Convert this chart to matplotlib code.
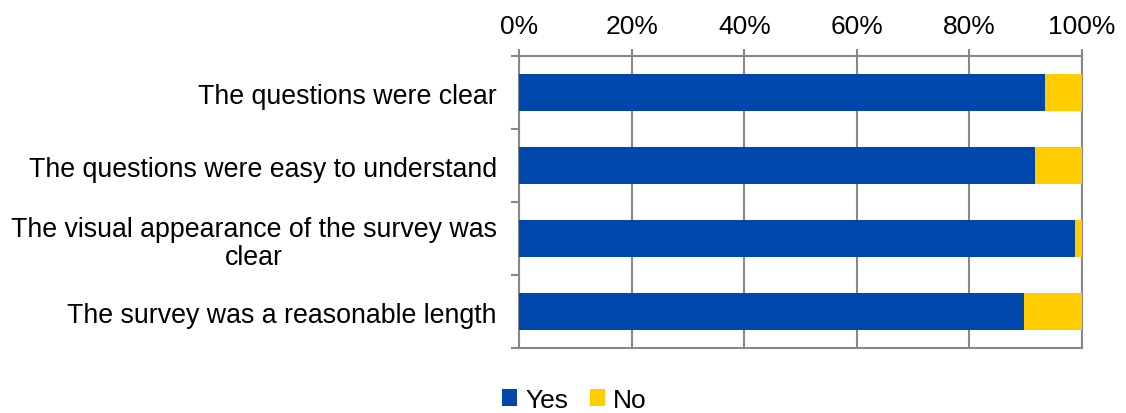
import numpy as np
import matplotlib.pyplot as plt

plt.rcParams['font.family'] = ['Liberation Sans', 'DejaVu Sans']

# data
categories = ["The questions were clear",
              "The questions were easy to understand",
              "The visual appearance of the survey was\nclear",
              "The survey was a reasonable length"]
yes = [93.5, 91.6, 98.8, 89.7]
no = [100 - v for v in yes]

fig = plt.figure(figsize=(11.26, 4.14), dpi=100)
ax = fig.add_axes([0.461, 0.157, 0.5, 0.705])

y = np.arange(len(categories))
ax.barh(y, yes, height=0.5, color='#0047AB', label='Yes', zorder=3)
ax.barh(y, no, left=yes, height=0.5, color='#FFCC00', label='No', zorder=3)

ax.set_xlim(0, 100)
ax.set_ylim(len(categories) - 0.5, -0.5)
ax.xaxis.tick_top()
ax.set_xticks(np.arange(0, 101, 20))
ax.set_xticklabels([f"{v}%" for v in range(0, 101, 20)], fontsize=19)
ax.tick_params(axis='x', colors='#888888', labelcolor='black', length=5, width=1.5, pad=8)
ax.grid(axis='x', color='#888888', linewidth=1.5, zorder=0)
ax.set_axisbelow(True)

ax.set_yticks(y)
ax.set_yticklabels(categories, fontsize=19.3, multialignment='center', linespacing=1.1)
ax.set_yticks(np.arange(-0.5, len(categories), 1), minor=True)
ax.tick_params(axis='y', which='major', length=0, pad=16)
ax.tick_params(axis='y', which='minor', length=6, width=1.5, color='#888888')

for s in ax.spines.values():
    s.set_color('#888888')
    s.set_linewidth(1.5)

fig.legend(loc='lower center', bbox_to_anchor=(0.51, -0.055), ncol=2, frameon=False,
           fontsize=19, handlelength=0.6, handleheight=0.6, handletextpad=0.3,
           columnspacing=0.8)

plt.savefig('out.png')
